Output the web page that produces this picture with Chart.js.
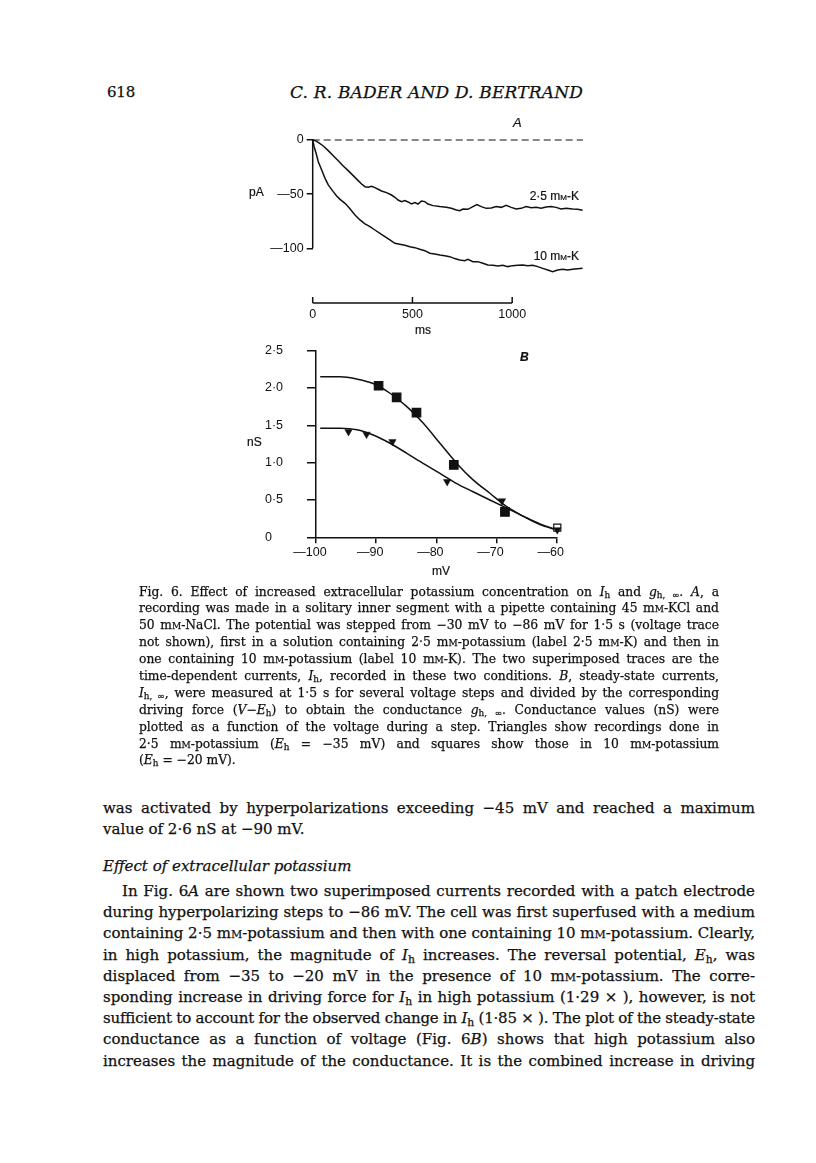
<!DOCTYPE html>
<html lang="en">
<head>
  <meta charset="UTF-8" />
  <title>Fig. 6 – Bader and Bertrand</title>
  <script src="https://cdn.jsdelivr.net/npm/chart.js"></script>
  <style>
    html, body { margin: 0; padding: 0; background: #fff; }
    body { width: 816px; height: 1163px; position: relative; overflow: hidden; color: #111; }
    canvas { position: absolute; }
    .lab { position: absolute; font-family: "Liberation Sans", Arial, sans-serif; font-size: 12px; line-height: 14px; height: 14px; white-space: nowrap; -webkit-text-stroke: 0.2px #111; }
    .serif { font-family: "DejaVu Serif", "Liberation Serif", serif; -webkit-text-stroke: 0.25px #111; }
    .head { position: absolute; white-space: nowrap; line-height: 20px; height: 20px; top: 82px; }
    .block { position: absolute; }
    .ln { white-space: nowrap; }
    .sc { font-variant: small-caps; }
    .sb { font-size: 0.72em; vertical-align: -0.28em; line-height: 0; }
    .cap { left: 139px; top: 583.5px; width: 580px; font-size: 12.3px; }
    .cap .ln { height: 16.9px; line-height: 16.9px; }
    .txt { left: 103px; width: 652px; font-size: 15px; }
    .txt .ln { height: 21.2px; line-height: 21.2px; }
  </style>
</head>
<body>
  <div class="serif head" style="left:107px; font-size:15px;"><span class="fw" data-w="28">618</span></div>
  <div class="serif head" style="left:290px; font-size:17px; font-style:italic;"><span class="fw" data-w="293">C. R. BADER AND D. BERTRAND</span></div>

  <canvas id="chartA" width="370" height="240" style="left:230px; top:110px;"></canvas>
  <canvas id="chartB" width="360" height="250" style="left:230px; top:335px;"></canvas>

  <!-- labels for A -->
  <div class="lab" style="left:513px; top:116px; font-style:italic; font-size:13px;">A</div>
  <div class="lab" style="left:249px; top:185px;">pA</div>
  <div class="lab" style="left:440px; top:189px; width:139px; text-align:right;">2·5 m<span class="sc">m</span>-K</div>
  <div class="lab" style="left:440px; top:249px; width:139px; text-align:right;">10 m<span class="sc">m</span>-K</div>
  <div class="lab" style="left:383px; top:323px; width:80px; text-align:center;">ms</div>

  <!-- labels for B -->
  <div class="lab" style="left:520px; top:350px; font-style:italic; font-weight:bold; font-size:12px;">B</div>
  <div class="lab" style="left:247px; top:435px;">nS</div>
  <div class="lab" style="left:401px; top:564px; width:80px; text-align:center;">mV</div>

  <div class="block serif cap">
    <div class="ln j"><span>Fig. 6. Effect of increased extracellular potassium concentration on <i>I</i><span class="sb">h</span> and <i>g</i><span class="sb">h, &infin;</span>. <i>A</i>, a</span></div>
    <div class="ln j"><span>recording was made in a solitary inner segment with a pipette containing 45 m<span class="sc">m</span>-KCl and</span></div>
    <div class="ln j"><span>50 m<span class="sc">m</span>-NaCl. The potential was stepped from &minus;30 mV to &minus;86 mV for 1·5 s (voltage trace</span></div>
    <div class="ln j"><span>not shown), first in a solution containing 2·5 m<span class="sc">m</span>-potassium (label 2·5 m<span class="sc">m</span>-K) and then in</span></div>
    <div class="ln j"><span>one containing 10 m<span class="sc">m</span>-potassium (label 10 m<span class="sc">m</span>-K). The two superimposed traces are the</span></div>
    <div class="ln j"><span>time-dependent currents, <i>I</i><span class="sb">h</span>, recorded in these two conditions. <i>B</i>, steady-state currents,</span></div>
    <div class="ln j"><span><i>I</i><span class="sb">h, &infin;</span>, were measured at 1·5 s for several voltage steps and divided by the corresponding</span></div>
    <div class="ln j"><span>driving force (<i>V</i>&minus;<i>E</i><span class="sb">h</span>) to obtain the conductance <i>g</i><span class="sb">h, &infin;</span>. Conductance values (nS) were</span></div>
    <div class="ln j"><span>plotted as a function of the voltage during a step. Triangles show recordings done in</span></div>
    <div class="ln j"><span>2·5 m<span class="sc">m</span>-potassium (<i>E</i><span class="sb">h</span> = &minus;35 mV) and squares show those in 10 m<span class="sc">m</span>-potassium</span></div>
    <div class="ln"><span>(<i>E</i><span class="sb">h</span> = &minus;20 mV).</span></div>
  </div>

  <div class="block serif txt" style="top:798px;">
    <div class="ln j"><span>was activated by hyperpolarizations exceeding &minus;45 mV and reached a maximum</span></div>
    <div class="ln"><span>value of 2·6 nS at &minus;90 mV.</span></div>
  </div>
  <div class="block serif txt" style="top:856px;">
    <div class="ln"><i>Effect of extracellular potassium</i></div>
  </div>
  <div class="block serif txt" style="top:881px;">
    <div class="ln j" style="padding-left:19px;"><span>In Fig. 6<i>A</i> are shown two superimposed currents recorded with a patch electrode</span></div>
    <div class="ln j"><span>during hyperpolarizing steps to &minus;86 mV. The cell was first superfused with a medium</span></div>
    <div class="ln j"><span>containing 2·5 m<span class="sc">m</span>-potassium and then with one containing 10 m<span class="sc">m</span>-potassium. Clearly,</span></div>
    <div class="ln j"><span>in high potassium, the magnitude of <i>I</i><span class="sb">h</span> increases. The reversal potential, <i>E</i><span class="sb">h</span>, was</span></div>
    <div class="ln j"><span>displaced from &minus;35 to &minus;20 mV in the presence of 10 m<span class="sc">m</span>-potassium. The corre-</span></div>
    <div class="ln j"><span>sponding increase in driving force for <i>I</i><span class="sb">h</span> in high potassium (1·29 &times; ), however, is not</span></div>
    <div class="ln j"><span>sufficient to account for the observed change in <i>I</i><span class="sb">h</span> (1·85 &times; ). The plot of the steady-state</span></div>
    <div class="ln j"><span>conductance as a function of voltage (Fig. 6<i>B</i>) shows that high potassium also</span></div>
    <div class="ln j"><span>increases the magnitude of the conductance. It is the combined increase in driving</span></div>
  </div>

<script>
  const INK = '#111';
  Chart.defaults.font.family = '"Liberation Sans", Arial, sans-serif';
  Chart.defaults.font.size = 12.5;
  Chart.defaults.color = INK;

  // ---- A: current traces (time in ms, current in pA)
  const timeK25 = [0,12,28,53,78,103,128,153,178,203,228,245,262,278,295,312,328,345,370,395,412,428,445,462,478,495,512,528,545,562,578,603,637,670,695,720,737,753,778,803,823,845,870,895,920,945,970,995,1020,1045,1070,1095,1120,1145,1170,1195,1220,1245,1270,1303,1328,1353];
  const currK25 = [0,-0.6,-2.2,-5.5,-9.8,-14.5,-19.1,-24.0,-28.3,-32.9,-37.5,-40.6,-43.1,-43.7,-42.8,-44.0,-45.5,-47.1,-48.6,-50.8,-52.9,-55.4,-56.9,-56.0,-57.2,-59.1,-57.8,-59.1,-56.3,-56.9,-59.1,-60.6,-61.5,-62.2,-63.1,-64.6,-65.2,-63.7,-64.0,-61.5,-59.7,-61.5,-63.1,-62.8,-61.5,-62.2,-60.3,-62.2,-63.7,-63.1,-61.5,-62.5,-62.2,-63.1,-61.8,-61.5,-62.2,-63.7,-63.1,-63.7,-64.0,-64.9];
  const timeK10 = [0,7,17,28,45,62,78,103,120,137,162,187,212,237,262,287,312,337,362,387,412,437,462,487,512,537,562,587,612,637,662,687,712,737,762,778,803,828,853,878,903,928,953,978,1003,1028,1053,1078,1103,1128,1153,1178,1203,1228,1253,1278,1303,1328,1353];
  const currK10 = [0,-6.2,-12.3,-20.0,-27.7,-35.4,-41.5,-47.7,-51.7,-54.8,-58.5,-63.4,-69.2,-73.8,-77.5,-80.0,-83.1,-86.2,-89.2,-92.3,-95.4,-96.3,-97.2,-98.5,-99.4,-100.9,-102.2,-104.6,-105.2,-106.2,-106.8,-107.7,-109.5,-110.8,-111.4,-110.2,-112.3,-112.3,-113.8,-115.4,-115.7,-116.3,-115.7,-116.9,-116.0,-115.7,-115.4,-116.0,-115.7,-116.9,-118.5,-120.0,-121.5,-120.0,-119.4,-120.0,-119.4,-118.8,-118.5];
  const zeroLineT = [0, 1355];
  const zeroLineI = [0, 0];
  const ticksA_y = [0, -50, -100];
  const ticksA_x = [0, 500, 1000];

  // ---- B: conductance vs voltage
  const triV = [-94.6, -91.6, -87.3, -78.2, -69.1, -59.9];
  const triG = [1.415, 1.38, 1.28, 0.745, 0.487, 0.10];
  const sqV = [-89.6, -86.6, -83.3, -77.1, -68.6, -59.9];
  const sqG = [2.03, 1.875, 1.67, 0.97, 0.34, 0.13];
  const fitV = [-99.3, -96, -93.2, -90.5, -87.7, -84.9, -82.2, -79.4, -76.6, -73.9, -71.1, -68.3, -65.5, -62.8, -60];
  const fitG10 = [2.15, 2.15, 2.12, 2.06, 1.93, 1.75, 1.53, 1.26, 0.99, 0.77, 0.59, 0.41, 0.28, 0.17, 0.10];
  const fitG25 = [1.46, 1.46, 1.44, 1.37, 1.26, 1.125, 0.99, 0.857, 0.72, 0.61, 0.50, 0.39, 0.28, 0.18, 0.10];

  const pts = (xs, ys) => xs.map((x, i) => ({ x: x, y: ys[i] }));
  const neg = v => v < 0 ? '\u2014' + Math.abs(v) : String(v);
  const fixTicks = list => scale => { scale.ticks = list.map(v => ({ value: v })); };

  // y axis line only between 0 and -100, scale bar for time
  const axisA = {
    id: 'axisA',
    afterDatasetsDraw(chart) {
      const { ctx, chartArea, scales: { x, y } } = chart;
      const yb = chartArea.bottom;
      ctx.save();
      ctx.strokeStyle = INK;
      ctx.lineWidth = 1.5;
      ctx.beginPath();
      ctx.moveTo(chartArea.left, y.getPixelForValue(ticksA_y[0]));
      ctx.lineTo(chartArea.left, y.getPixelForValue(ticksA_y[2]));
      ctx.moveTo(x.getPixelForValue(ticksA_x[0]), yb);
      ctx.lineTo(x.getPixelForValue(ticksA_x[2]), yb);
      ticksA_x.forEach(v => {
        ctx.moveTo(x.getPixelForValue(v), yb);
        ctx.lineTo(x.getPixelForValue(v), yb - 6);
      });
      ctx.stroke();
      ctx.restore();
    }
  };

  new Chart(document.getElementById('chartA'), {
    type: 'line',
    data: {
      datasets: [
        { data: pts(zeroLineT, zeroLineI), borderDash: [7, 4], borderWidth: 1.1 },
        { data: pts(timeK25, currK25) },
        { data: pts(timeK10, currK10) }
      ]
    },
    options: {
      responsive: false,
      animation: false,
      events: [],
      layout: { padding: { top: 30, right: 17, left: 0, bottom: 0 } },
      plugins: { legend: { display: false }, tooltip: { enabled: false } },
      elements: {
        point: { radius: 0 },
        line: { borderColor: INK, borderWidth: 1.5, tension: 0 }
      },
      datasets: { line: { clip: false } },
      scales: {
        x: {
          type: 'linear', min: 0, max: 1355,
          afterBuildTicks: fixTicks(ticksA_x),
          afterFit: s => { s.height = 47; },
          grid: { display: false, drawTicks: false },
          border: { display: false },
          ticks: { padding: 4, color: INK, callback: v => String(v) }
        },
        y: {
          type: 'linear', min: -150.5, max: 0,
          afterBuildTicks: fixTicks(ticksA_y),
          afterFit: s => { s.width = 82.7; },
          grid: { drawOnChartArea: false, tickLength: 6, color: INK, lineWidth: 1.5 },
          border: { display: false },
          ticks: { padding: 3, color: INK, callback: v => neg(v) }
        }
      }
    },
    plugins: [axisA]
  });

  new Chart(document.getElementById('chartB'), {
    type: 'line',
    data: {
      datasets: [
        { data: pts(triV, triG), showLine: false, pointStyle: 'triangle', rotation: 180, pointRadius: 4.3,
          pointBackgroundColor: INK, pointBorderColor: INK, pointBorderWidth: 0.5 },
        { data: pts(sqV, sqG), showLine: false, pointStyle: 'rect',
          pointRadius: [6, 6, 6, 6, 6, 5],
          pointBackgroundColor: [INK, INK, INK, INK, INK, '#fff'],
          pointBorderColor: INK, pointBorderWidth: 1.2 },
        { data: pts(fitV, fitG10), cubicInterpolationMode: 'monotone' },
        { data: pts(fitV, fitG25), cubicInterpolationMode: 'monotone' }
      ]
    },
    options: {
      responsive: false,
      animation: false,
      events: [],
      layout: { padding: { top: 15.7, right: 33.3, left: 35, bottom: 0 } },
      plugins: { legend: { display: false }, tooltip: { enabled: false } },
      elements: {
        point: { radius: 0 },
        line: { borderColor: INK, borderWidth: 1.5 }
      },
      datasets: { line: { clip: false } },
      scales: {
        x: {
          type: 'linear', min: -100, max: -60,
          afterFit: s => { s.height = 47.7; },
          grid: { drawOnChartArea: false, tickLength: 6, color: INK, lineWidth: 1.5 },
          border: { display: true, color: INK, width: 1.5 },
          ticks: { stepSize: 10, padding: 2, labelOffset: -6, color: INK, callback: v => neg(v) }
        },
        y: {
          type: 'linear', min: 0, max: 2.5,
          afterFit: s => { s.width = 51; },
          grid: { drawOnChartArea: false, tickLength: 9, color: INK, lineWidth: 1.5 },
          border: { display: true, color: INK, width: 1.5 },
          ticks: { stepSize: 0.5, crossAlign: 'far', color: INK,
                   callback: v => v === 0 ? '0' : v.toFixed(1).replace('.', '\u00b7') }
        }
      }
    }
  });

  // stretch justified lines to their block width
  function fitText() {
    document.querySelectorAll('.ln.j').forEach(div => {
      const span = div.firstElementChild;
      const W = div.clientWidth - parseFloat(getComputedStyle(div).paddingLeft);
      let w = span.getBoundingClientRect().width;
      const txt = span.textContent;
      const spaces = (txt.match(/ /g) || []).length;
      if (w > W) {
        span.style.letterSpacing = ((W - w) / txt.length) + 'px';
        w = span.getBoundingClientRect().width;
      }
      if (spaces) span.style.wordSpacing = ((W - w) / spaces) + 'px';
    });
    document.querySelectorAll('.fw').forEach(el => {
      const W = parseFloat(el.dataset.w);
      const w = el.getBoundingClientRect().width;
      el.style.letterSpacing = ((W - w) / el.textContent.length) + 'px';
    });
  }
  fitText();
</script>
</body>
</html>
